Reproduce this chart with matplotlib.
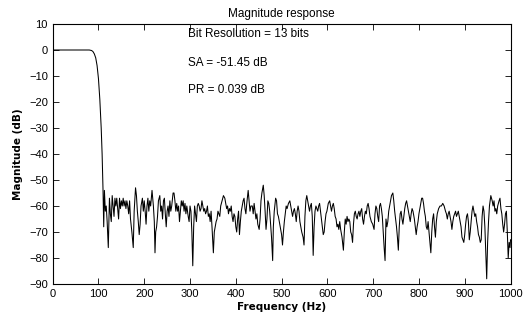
import numpy as np
import matplotlib.pyplot as plt

# passband and transition band (Hz, dB)
pass_freq = [0, 20, 40, 60, 80, 85, 88, 91, 94, 97, 100, 103, 106, 108, 109.5]
pass_mag = [0, 0, 0, 0, 0, -0.2, -0.6, -1.5, -3, -6, -11, -19, -30, -40, -50]

# stopband (Hz, dB)
stop_freq = [110, 111.5, 113, 115, 117, 119, 121.5, 124, 126, 128, 130, 132, 134, 136, 138, 140,
             142, 144, 146, 148, 150, 152, 154, 156, 158, 160, 162, 164, 166, 168, 170, 173,
             176, 178, 181, 183, 185, 187, 189, 191, 193, 196, 198, 200, 202, 204, 206, 208,
             210, 212, 214, 217, 220, 222, 223.5, 225, 227, 229, 231, 234, 236, 238, 240, 242,
             244, 246, 248, 250, 252, 254, 256, 258, 260, 263, 265, 267, 269, 271, 273, 275,
             277, 279, 281, 283, 285, 287, 289, 291, 293, 296, 298, 300, 302, 304, 306, 308,
             310, 312, 314, 316, 318, 320, 322, 324, 326, 328, 330, 332, 334, 336, 338, 340,
             342, 344, 346, 348, 351, 353, 355, 357, 359, 361, 363, 365, 367, 370, 373, 376,
             378, 380, 382, 384, 386, 388, 390, 392, 394, 396, 398, 400, 402, 404, 406, 408,
             410, 412, 414, 416, 418, 420, 422, 424, 427, 429, 431, 433, 436, 438, 440, 442,
             444, 446, 448, 451, 453, 455, 457, 460, 462, 464, 466, 468, 470, 472, 474, 476,
             478, 480.5, 482, 484, 487, 489, 491, 493, 495, 497, 500, 502, 504, 506, 508, 510,
             512, 515, 518, 520, 522, 524, 526, 528, 530, 532, 534, 536, 538, 540, 542, 544,
             547, 549, 551, 553, 555, 557, 559, 561, 563, 565, 567, 569, 571, 573, 575, 577,
             579, 581, 583, 585, 587, 589, 591, 593, 595, 597, 599, 602, 605, 607, 609, 611,
             613, 615, 617, 619, 621, 623, 625, 627, 629, 632, 635, 637, 639, 641, 643, 645,
             647, 649, 651, 653, 655, 657, 659, 661, 663, 665, 667, 669, 671, 673, 675, 677,
             679, 681, 683, 685, 687, 689, 691, 693, 696, 699, 702, 704, 706, 708, 710, 712,
             714, 716, 718, 720, 722, 724, 726, 728, 730, 732, 734, 736, 738, 740, 743, 745,
             747, 749, 751, 753, 755, 757, 759, 761, 763, 765, 767, 769, 771, 773, 775, 777,
             779, 781, 783, 785, 787, 790, 792, 794, 796, 798, 800, 803, 806, 808, 810, 812,
             814, 816, 818, 820, 822, 824, 826, 828, 830, 832, 834, 836, 838, 840, 843, 846,
             849, 852, 855, 858, 860, 862, 864, 866, 868, 870, 872, 874, 876, 878, 880, 882,
             884, 886, 888, 890, 892, 894, 896, 898, 900, 902, 904, 906, 908, 910, 912, 914,
             916, 918, 920, 922, 924, 926, 928, 930, 932, 934, 936, 938, 940, 942, 944, 946,
             948, 950, 952, 954, 957, 960, 962, 964, 966, 968, 970, 972, 975, 977, 979, 981,
             983, 985, 987, 989, 991, 993, 995, 997, 999, 1000]
stop_mag = [-54, -68, -54, -62, -60, -66, -76, -57, -63, -66, -56, -60, -64, -57, -60, -57,
            -61, -65, -57, -61, -58, -60, -57, -60, -58, -61, -58, -60, -63, -58, -65, -70,
            -76, -62, -53, -56, -62, -66, -71, -67, -60, -57, -62, -58, -62, -67, -60, -57,
            -62, -58, -60, -54, -60, -66, -78, -70, -68, -64, -58, -56, -62, -60, -65, -58,
            -57, -63, -68, -62, -60, -64, -58, -62, -60, -55, -55, -58, -62, -59, -62, -60,
            -66, -62, -58, -60, -58, -62, -59, -63, -60, -64, -66, -60, -62, -70, -83, -68,
            -60, -63, -66, -60, -59, -60, -62, -61, -58, -60, -62, -61, -63, -62, -60, -64,
            -63, -66, -62, -68, -78, -70, -68, -66, -65, -62, -63, -64, -60, -58, -56, -57,
            -59, -61, -60, -63, -61, -62, -60, -64, -66, -63, -64, -68, -70, -65, -62, -71,
            -66, -62, -60, -58, -57, -61, -63, -59, -54, -58, -62, -60, -60, -63, -59, -62,
            -65, -63, -67, -69, -65, -58, -55, -52, -56, -62, -69, -65, -58, -59, -62, -67,
            -72, -81, -68, -62, -57, -58, -63, -64, -66, -68, -71, -75, -70, -66, -63, -60,
            -61, -59, -58, -60, -62, -64, -62, -61, -63, -66, -62, -60, -62, -66, -68, -70,
            -72, -75, -64, -58, -56, -58, -60, -62, -60, -59, -64, -79, -68, -62, -60, -61,
            -62, -60, -59, -62, -65, -68, -71, -70, -66, -63, -62, -59, -58, -60, -62, -60,
            -59, -61, -64, -65, -68, -67, -69, -66, -69, -72, -77, -70, -65, -67, -64, -66,
            -65, -66, -70, -71, -74, -67, -63, -62, -64, -65, -63, -62, -64, -62, -61, -65,
            -67, -64, -62, -63, -60, -59, -61, -64, -66, -67, -69, -63, -60, -61, -64, -66,
            -60, -59, -61, -64, -70, -76, -81, -65, -68, -66, -62, -60, -58, -56, -55, -58,
            -62, -65, -68, -72, -77, -68, -63, -62, -65, -67, -64, -61, -59, -58, -60, -62,
            -64, -66, -63, -61, -62, -65, -68, -71, -68, -66, -63, -60, -57, -57, -59, -62,
            -64, -68, -69, -66, -70, -74, -78, -70, -65, -63, -68, -72, -66, -63, -61, -60,
            -60, -59, -60, -62, -63, -65, -63, -62, -64, -66, -69, -66, -64, -63, -62, -64,
            -63, -62, -64, -66, -68, -72, -73, -74, -71, -67, -64, -63, -66, -73, -70, -66,
            -62, -60, -62, -64, -63, -66, -68, -71, -72, -74, -73, -64, -60, -62, -68, -78,
            -88, -74, -66, -60, -56, -58, -60, -58, -62, -61, -63, -60, -58, -57, -61, -63,
            -67, -70, -67, -63, -62, -70, -80, -74, -76, -73]

freq = np.array(pass_freq + stop_freq)
mag = np.array(pass_mag + stop_mag)

notes = ["Bit Resolution = 13 bits", "SA = -51.45 dB", "PR = 0.039 dB"]
note_y = [6, -5, -15.5]

plt.rcParams['font.family'] = ['Liberation Sans', 'DejaVu Sans']

fig = plt.figure(figsize=(5.32, 3.2), dpi=100)
ax = fig.add_axes([0.099, 0.1125, 0.8606, 0.8125])

ax.plot(freq, mag, color='black', linewidth=0.75)

for txt, y in zip(notes, note_y):
    ax.text(295, y, txt, fontsize=8.5, va='center', ha='left')

ax.set_xlim(0, 1000)
ax.set_ylim(-90, 10)
ax.set_xticks(np.arange(0, 1001, 100))
ax.set_yticks(np.arange(-90, 11, 10))
ax.tick_params(direction='in', top=True, right=True, labelsize=8, length=4, width=0.6)
for s in ax.spines.values():
    s.set_linewidth(0.8)

ax.set_title("Magnitude response", fontsize=8.5, pad=5)
ax.set_xlabel("Frequency (Hz)", fontsize=7.5, fontweight='bold', family='DejaVu Sans', labelpad=2)
ax.set_ylabel("Magnitude (dB)", fontsize=7.5, fontweight='bold', family='DejaVu Sans', labelpad=4)

fig.savefig("out.png", dpi=100)
